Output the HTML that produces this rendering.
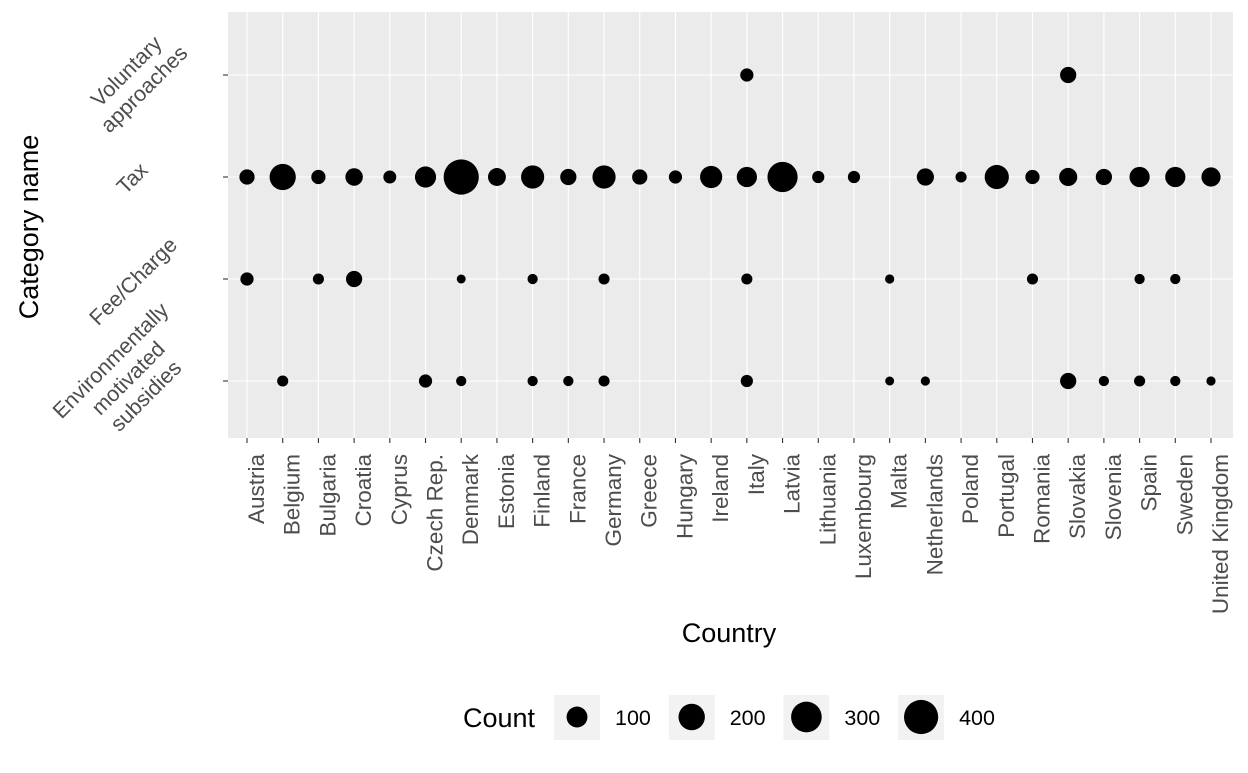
<!DOCTYPE html>
<html><head><meta charset="utf-8"><style>
body{margin:0;background:#fff}
svg text{font-family:"Liberation Sans",Arial,sans-serif}
</style></head><body>
<svg id="c" width="1248" height="768" xmlns="http://www.w3.org/2000/svg">
<rect x="228" y="12" width="1005" height="426" fill="#ebebeb"/>
<g id="grid"></g><g id="pts"></g><g id="xt"></g><g id="yt"></g>
<text x="729" y="642" font-size="27" text-anchor="middle" fill="#000">Country</text>
<text transform="translate(38,227) rotate(-90)" font-size="27" text-anchor="middle" fill="#000">Category name</text>
<text x="463" y="727" font-size="27" fill="#000">Count</text>
<g id="leg"></g>
</svg>
<script>
const countries=["Austria","Belgium","Bulgaria","Croatia","Cyprus","Czech Rep.","Denmark","Estonia","Finland","France","Germany","Greece","Hungary","Ireland","Italy","Latvia","Lithuania","Luxembourg","Malta","Netherlands","Poland","Portugal","Romania","Slovakia","Slovenia","Spain","Sweden","United Kingdom"];
const categories=["Environmentally motivated subsidies","Fee/Charge","Tax","Voluntary approaches"];
const taxValues=[33,196,25,55,16,104,430,60,137,42,137,33,18,120,90,289,12,12,0,52,7,156,25,63,42,90,90,76];
const feeValues=[18,0,7,42,0,0,1,0,4,0,7,0,0,0,7,0,0,0,1.5,0,0,0,7,0,0,4,4,0];
const envValues=[0,7,0,0,0,18,4,0,4,4,7,0,0,0,12,0,0,0,1,1.5,0,0,0,42,4,7,4,1.5];
const volValues=[0,0,0,0,0,0,0,0,0,0,0,0,0,0,18,0,0,0,0,0,0,0,0,42,0,0,0,0];
const legendBreaks=[100,200,300,400];
const NS="http://www.w3.org/2000/svg";
function xPos(i){return 247+i*(1211-247)/(countries.length-1);}
function yPos(j){return 381-j*102;}
function diam(v){return 7.6+1.33*Math.sqrt(v);}
function mk(tag,attrs,parent){const e=document.createElementNS(NS,tag);for(const k in attrs)e.setAttribute(k,attrs[k]);parent.appendChild(e);return e;}
const grid=document.getElementById('grid'),pts=document.getElementById('pts'),xt=document.getElementById('xt'),yt=document.getElementById('yt'),leg=document.getElementById('leg');
countries.forEach((c,i)=>{
 const x=xPos(i);
 const l=mk('line',{x1:x,x2:x,y1:12,y2:438,stroke:'#fff','stroke-width':1.1},grid);
 
 
 const tk=mk('line',{x1:x,x2:x,y1:438,y2:443,stroke:'#333','stroke-width':1.1},xt);
 
 
 const t=mk('text',{transform:`translate(${x+17},454) rotate(-90)`,'font-size':22.5,'text-anchor':'end',fill:'#4d4d4d'},xt);
 t.textContent=c;
 
 
});
const ylab=[{lines:["Environmentally","motivated","subsidies"],cx:128,cy:378},{lines:["Fee/Charge"],cx:133,cy:281},{lines:["Tax"],cx:132,cy:178},{lines:["Voluntary","approaches"],cx:135,cy:80}];
categories.forEach((c,j)=>{
 const y=yPos(j);
 const l=mk('line',{x1:228,x2:1233,y1:y,y2:y,stroke:'#fff','stroke-width':1.1},grid);
 
 
 const tk=mk('line',{x1:223,x2:228,y1:y,y2:y,stroke:'#333','stroke-width':1.1},yt);
 
 
 const L=ylab[j];
 const t=mk('text',{transform:`translate(${L.cx},${L.cy}) rotate(-45)`,'font-size':21.5,'text-anchor':'middle',fill:'#4d4d4d'},yt);
 
 
 const n=L.lines.length;
 L.lines.forEach((s,k)=>{const ts=mk('tspan',{x:0,y:(k-(n-1)/2)*25+7.5},t);ts.textContent=s;});
});
const series=[envValues,feeValues,taxValues,volValues];
series.forEach((arr,j)=>{arr.forEach((v,i)=>{
 if(!v)return;
 const c=mk('circle',{cx:xPos(i),cy:yPos(j),r:diam(v)/2,fill:'#000'},pts);
 
 
});});
legendBreaks.forEach((v,k)=>{
 const cx=577+k*114.7;
 const r=mk('rect',{x:cx-23,y:695,width:46,height:45,fill:'#f2f2f2'},leg);
 
 
 const c=mk('circle',{cx:cx,cy:717,r:diam(v)/2,fill:'#000'},leg);
 
 
 const t=mk('text',{x:cx+38,y:725,'font-size':21.5,fill:'#000'},leg);
 t.textContent=v;
 
 
});
</script>
</body></html>
